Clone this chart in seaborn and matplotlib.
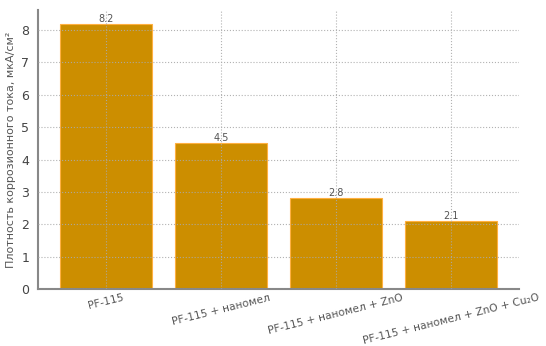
import matplotlib
matplotlib.use("Agg")
import matplotlib.pyplot as plt
import seaborn as sns
import pandas as pd

categories = ["PF-115", "PF-115 + наномел", "PF-115 + наномел + ZnO", "PF-115 + наномел + ZnO + Cu₂O"]
current_density = [8.2, 4.5, 2.8, 2.1]
ylabel = "Плотность коррозионного тока, мкА/см²"

df = pd.DataFrame({"coating": categories, "value": current_density})

sns.set_style("white")
plt.rcParams["font.family"] = ["DejaVu Sans"]

fig, ax = plt.subplots(figsize=(5.46, 3.46), dpi=100)
fig.subplots_adjust(left=0.07, right=0.95, top=0.97, bottom=0.165)

sns.barplot(data=df, x="coating", y="value", color="#cc8e00", saturation=1,
            width=0.8, edgecolor="#ffb040", linewidth=0.8, ax=ax)

ax.set_xlim(-0.59, 3.59)
ax.set_ylim(0, 8.61)
ax.set_yticks(range(0, 9))

ax.grid(True, linestyle=":", color="#aaaaaa", linewidth=0.8, alpha=0.9)
ax.set_axisbelow(False)

for i, v in enumerate(current_density):
    ax.text(i, v, f"{v}", ha="center", va="bottom", fontsize=7, color="#555555")

ax.set_xlabel("")
ax.set_ylabel(ylabel, fontsize=8, color="#555555")
ax.tick_params(axis="x", labelsize=7.7, colors="#555555", rotation=14, length=2, pad=0.5)
ax.tick_params(axis="y", labelsize=9, colors="#444444", length=3)
for lbl in ax.get_xticklabels():
    lbl.set_ha("center")

for s in ["top", "right"]:
    ax.spines[s].set_visible(False)
for s in ["left", "bottom"]:
    ax.spines[s].set_color("#888888")
    ax.spines[s].set_linewidth(1.5)

fig.savefig("out.png", dpi=100)
